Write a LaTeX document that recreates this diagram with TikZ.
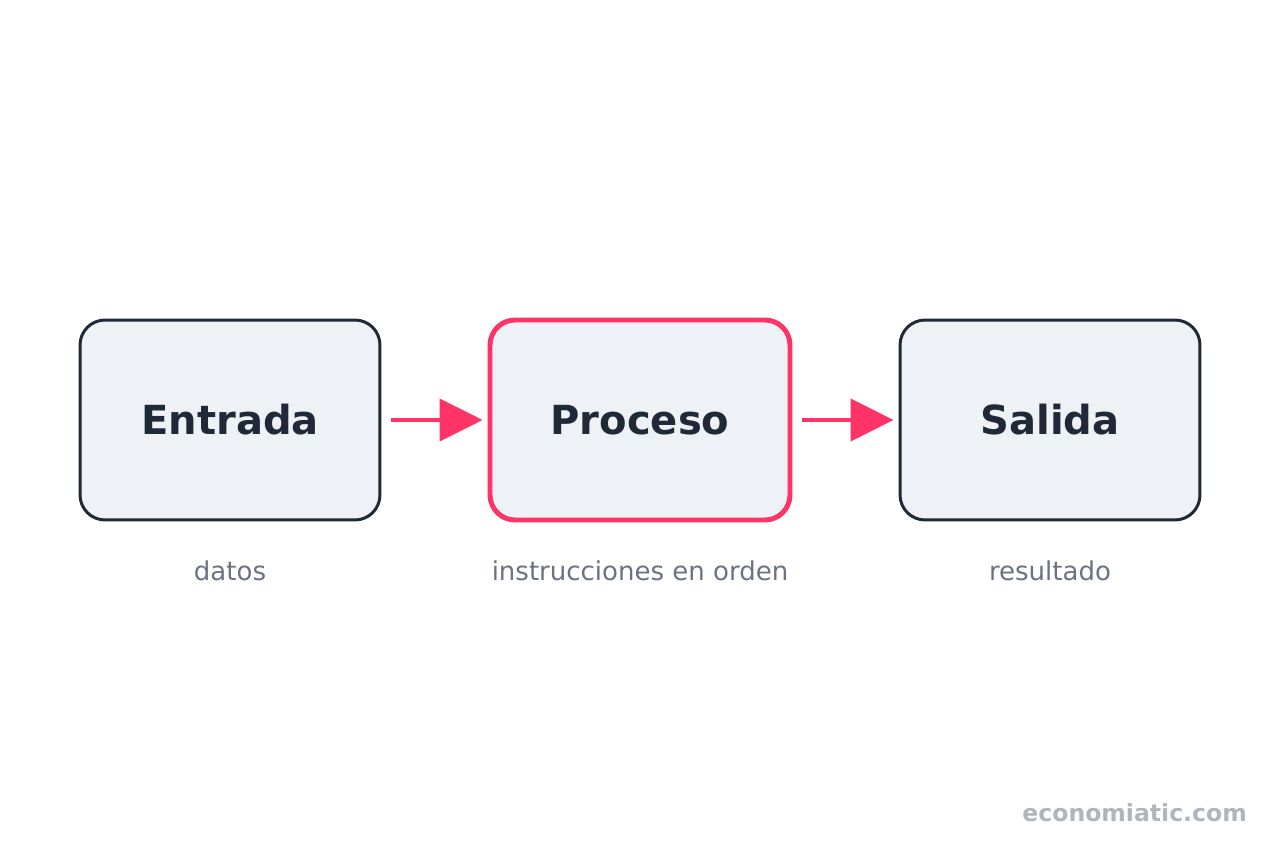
\documentclass[tikz,border=0pt]{standalone}
\usepackage{fontspec}
\setmainfont{DejaVu Sans}
\usetikzlibrary{arrows.meta,positioning}
\definecolor{ink}{HTML}{1F2937}
\definecolor{accent}{HTML}{FF3366}
\definecolor{boxfill}{HTML}{EEF1F6}
\definecolor{note}{HTML}{6B7280}
\definecolor{mark}{HTML}{B0B5BC}
\tikzset{
  stage/.style={draw=ink, line width=1.7pt, fill=boxfill, rounded corners=0.5cm,
    minimum width=6cm, minimum height=4cm, font=\fontsize{22.8}{27}\selectfont\bfseries, text=ink},
  caption/.style={font=\fontsize{14.8}{17}\selectfont, text=note},
  flow/.style={accent, line width=2.3pt, -{Triangle[length=0.86cm,width=0.84cm]},
    shorten <=0.2cm, shorten >=0.1cm}
}
\begin{document}
\begin{tikzpicture}[x=0.02cm,y=-0.02cm]
    \useasboundingbox (0,0) rectangle (1280,854);
    % stages
    \node[stage] (in) at (230,420) {Entrada};
    \node[stage, draw=accent, line width=2.8pt] (proc) at (640,420) {Proceso};
    \node[stage] (out) at (1050,420) {Salida};

    % captions
    \node[caption] (inlbl) at (230,571) {datos};
    \node[caption] (proclbl) at (640,571) {instrucciones en orden};
    \node[caption] (outlbl) at (1050,571) {resultado};

    % arrows
    \draw[flow] (in) -- (proc);
    \draw[flow] (proc) -- (out);

    \node[anchor=east, font=\fontsize{13.4}{16}\selectfont\bfseries, text=mark] (site) at (1253,813) {economiatic.com};
\end{tikzpicture}
\end{document}
